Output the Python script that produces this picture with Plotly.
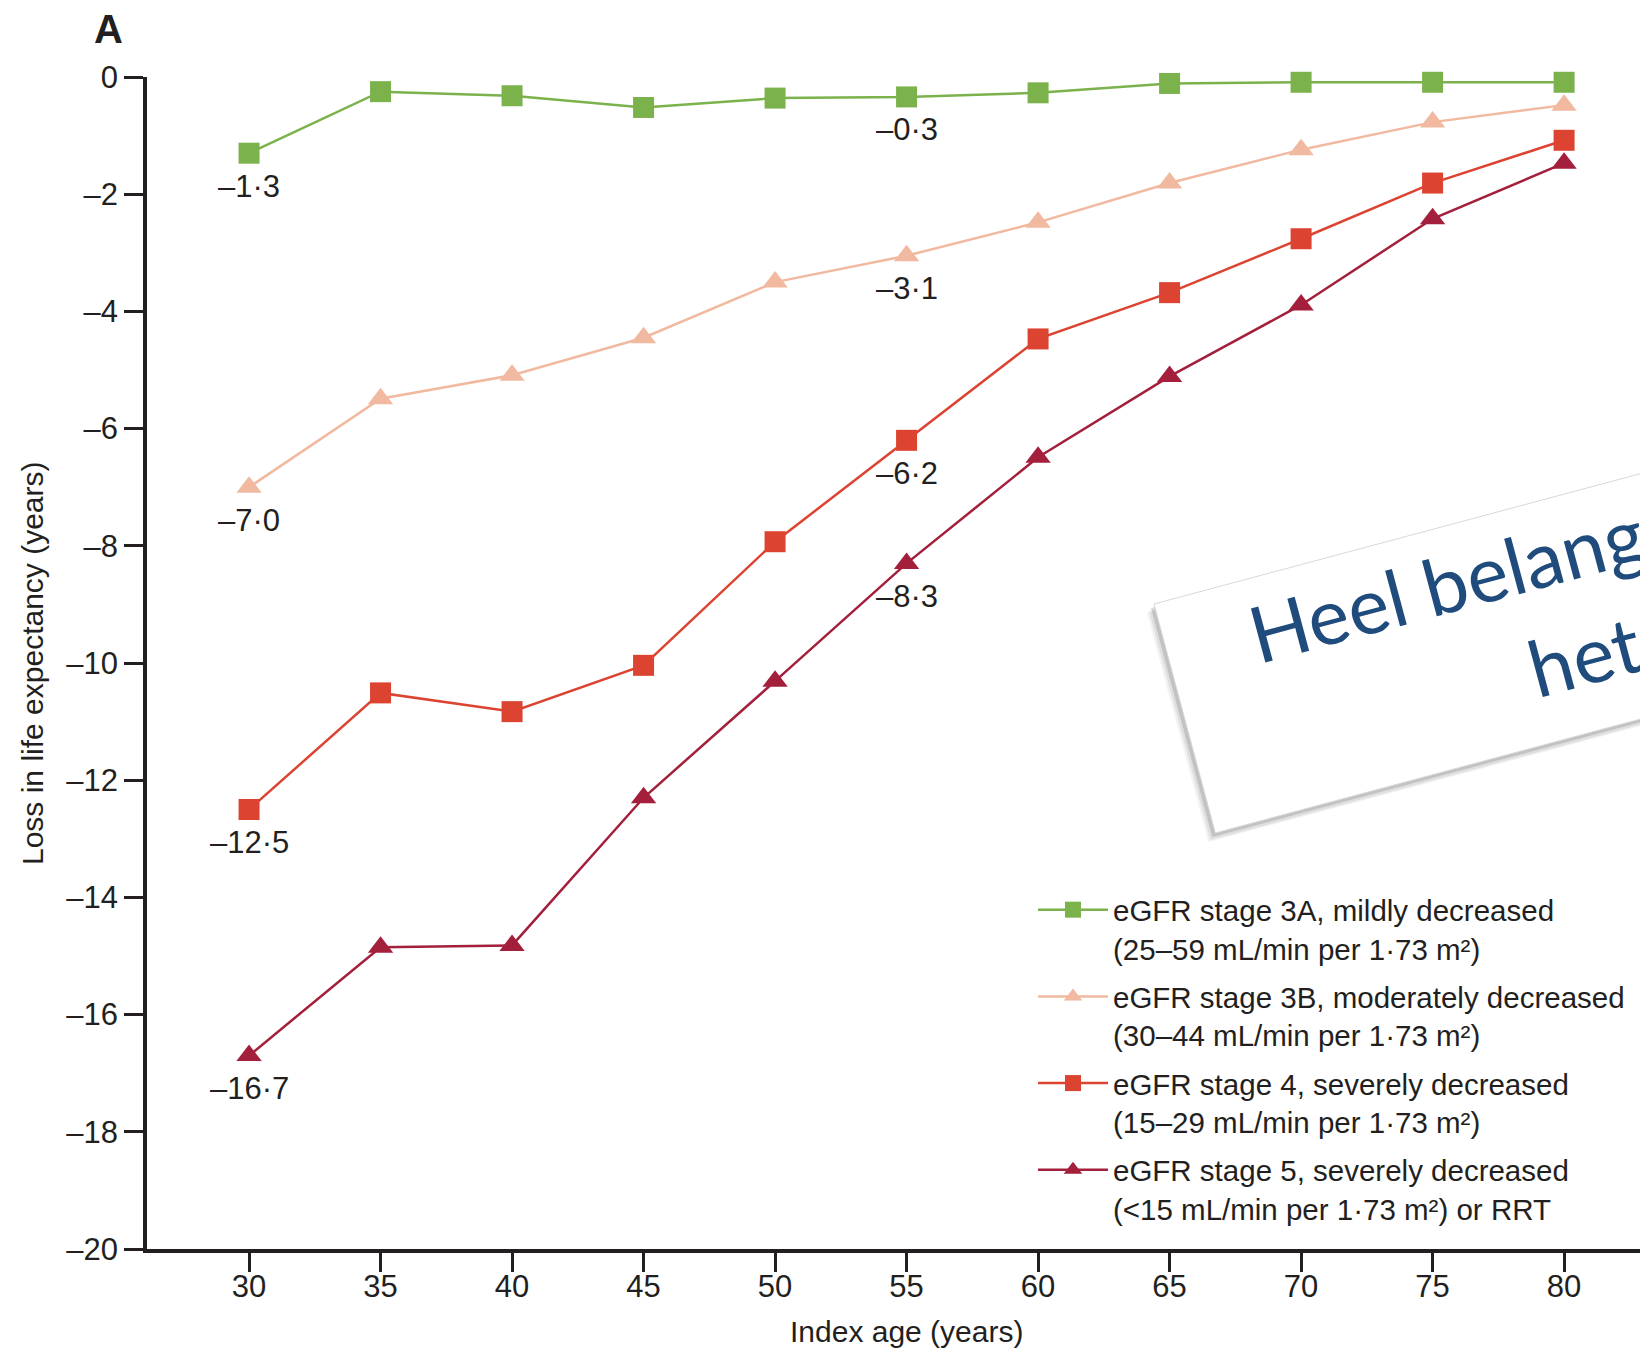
import math
import plotly.graph_objects as go

ages = [30, 35, 40, 45, 50, 55, 60, 65, 70, 75, 80]
stage3a = [-1.3, -0.25, -0.32, -0.52, -0.36, -0.34, -0.27, -0.11, -0.09, -0.09, -0.09]
stage3b = [-7.0, -5.49, -5.09, -4.45, -3.5, -3.05, -2.48, -1.81, -1.24, -0.77, -0.48]
stage4 = [-12.5, -10.51, -10.83, -10.04, -7.93, -6.2, -4.47, -3.68, -2.76, -1.81, -1.08]
stage5 = [-16.7, -14.85, -14.82, -12.3, -10.31, -8.3, -6.49, -5.11, -3.89, -2.42, -1.47]

series_names = [
    "eGFR stage 3A, mildly decreased<br>(25–59 mL/min per 1·73 m²)",
    "eGFR stage 3B, moderately decreased<br>(30–44 mL/min per 1·73 m²)",
    "eGFR stage 4, severely decreased<br>(15–29 mL/min per 1·73 m²)",
    "eGFR stage 5, severely decreased<br>(&lt;15 mL/min per 1·73 m²) or RRT",
]
series_colors = ["#7cb24c", "#f1b9a0", "#dc4331", "#a31f3b"]
series_symbols = ["square", "triangle-up", "square", "triangle-up"]

y_tickvals = [0, -2, -4, -6, -8, -10, -12, -14, -16, -18, -20]
y_ticktext = ["0", "–2", "–4", "–6", "–8", "–10", "–12", "–14", "–16", "–18", "–20"]
x_tickvals = [30, 35, 40, 45, 50, 55, 60, 65, 70, 75, 80]

# value labels (age, value, text)
label_ages = [30, 55, 30, 55, 30, 55, 30, 55]
label_vals = [-1.3, -0.34, -7.0, -3.05, -12.5, -6.2, -16.7, -8.3]
label_texts = ["–1·3", "–0·3", "–7·0", "–3·1", "–12·5", "–6·2", "–16·7", "–8·3"]

FONT = "Liberation Sans, Arial, sans-serif"
TXT = "#231f20"

W, H = 1648, 1353
OFF = 8  # page body margin
# plot area in page pixels
L, R, T, B = 147, 1648, 77, 1249

def pxx(x):
    return (x - L) / (R - L)

def pxy(y):
    return (B - y) / (B - T)

fig = go.Figure()
all_series = [stage3a, stage3b, stage4, stage5]
for i, (name, vals, col, sym) in enumerate(zip(series_names, all_series, series_colors, series_symbols)):
    fig.add_trace(go.Scatter(
        x=ages, y=vals, mode="lines+markers", name=name, legendgroup=f"g{i}",
        line=dict(color=col, width=2.5),
        marker=dict(color=col, symbol=sym, size=21 if sym == "square" else 22,
                    line=dict(width=0)),
        cliponaxis=False,
    ))

annotations = []
for a, v, t in zip(label_ages, label_vals, label_texts):
    annotations.append(dict(x=a, y=v, xref="x", yref="y", text=t, showarrow=False,
                            xanchor="center", yanchor="middle",
                            yshift=-33, font=dict(family=FONT, size=31, color=TXT)))

annotations.append(dict(x=pxx(108), y=pxy(29), xref="paper", yref="paper", text="<b>A</b>",
                        showarrow=False, xanchor="center", yanchor="middle",
                        font=dict(family=FONT, size=40, color=TXT)))
annotations.append(dict(x=pxx(32), y=pxy(663), xref="paper", yref="paper",
                        text="Loss in life expectancy (years)", textangle=-90, showarrow=False,
                        xanchor="center", yanchor="middle",
                        font=dict(family=FONT, size=30, color=TXT)))
annotations.append(dict(x=55, y=pxy(1331), xref="x", yref="paper",
                        text="Index age (years)", showarrow=False,
                        xanchor="center", yanchor="middle",
                        font=dict(family=FONT, size=30, color=TXT)))

# rotated note box
ang = math.radians(15)
u = (math.cos(ang), -math.sin(ang))
v = (math.sin(ang), math.cos(ang))
tl = (1154, 604)
bw, bh = 900, 237

def corners(ox, oy):
    p0 = (tl[0] + ox, tl[1] + oy)
    p1 = (p0[0] + bw * u[0], p0[1] + bw * u[1])
    p2 = (p1[0] + bh * v[0], p1[1] + bh * v[1])
    p3 = (p0[0] + bh * v[0], p0[1] + bh * v[1])
    return [p0, p1, p2, p3]

def path_of(pts):
    return "M " + " L ".join(f"{pxx(a):.5f},{pxy(b):.5f}" for a, b in pts) + " Z"

shapes = []
for (ox, oy, op) in [(-7, 9, 0.08), (-5, 7, 0.12), (-3, 4, 0.22)]:
    shapes.append(dict(type="path", xref="paper", yref="paper", path=path_of(corners(ox, oy)),
                       fillcolor=f"rgba(90,90,90,{op})", line=dict(width=0), layer="above"))
shapes.append(dict(type="path", xref="paper", yref="paper", path=path_of(corners(0, 0)),
                   fillcolor="white", line=dict(color="#d8d8d8", width=1), layer="above"))

def text_center(start, along, across):
    return (start[0] + along * u[0] + across * v[0], start[1] + along * u[1] + across * v[1])

c1 = text_center((1264, 674), 253, -41)
c2 = text_center((1527, 713), 70, -41)
for c, t in [(c1, "Heel belangrijk"), (c2, "het")]:
    annotations.append(dict(x=pxx(c[0]), y=pxy(c[1]), xref="paper", yref="paper",
                            text=t, textangle=-15, showarrow=False,
                            xanchor="center", yanchor="middle",
                            font=dict(family="Lato, Open Sans, sans-serif", size=78, color="#1f4b7d")))

fig.update_layout(
    width=W, height=H,
    margin=dict(l=L - OFF, r=W - (R - OFF), t=T - OFF, b=H - (B - OFF), pad=0),
    paper_bgcolor="white", plot_bgcolor="white",
    showlegend=True,
    legend=dict(x=pxx(1033), y=pxy(884), xanchor="left", yanchor="top",
                font=dict(family=FONT, size=29.5, color=TXT),
                valign="top", tracegroupgap=7, itemwidth=70,
                bgcolor="rgba(0,0,0,0)"),
    xaxis=dict(range=[26.12, 83.19], tickvals=x_tickvals, showgrid=False, zeroline=False,
               showline=True, linecolor=TXT, linewidth=3.5, ticks="outside", ticklen=19,
               tickwidth=3, tickcolor=TXT, ticklabelstandoff=-12,
               tickfont=dict(family=FONT, size=31, color=TXT)),
    yaxis=dict(range=[-20, 0], tickvals=y_tickvals, ticktext=y_ticktext, showgrid=False,
               zeroline=False, showline=True, linecolor=TXT, linewidth=3.5, ticks="outside",
               ticklen=19, tickwidth=3, tickcolor=TXT,
               tickfont=dict(family=FONT, size=31, color=TXT)),
    annotations=annotations,
    shapes=shapes,
)

fig.write_html("out.html")
